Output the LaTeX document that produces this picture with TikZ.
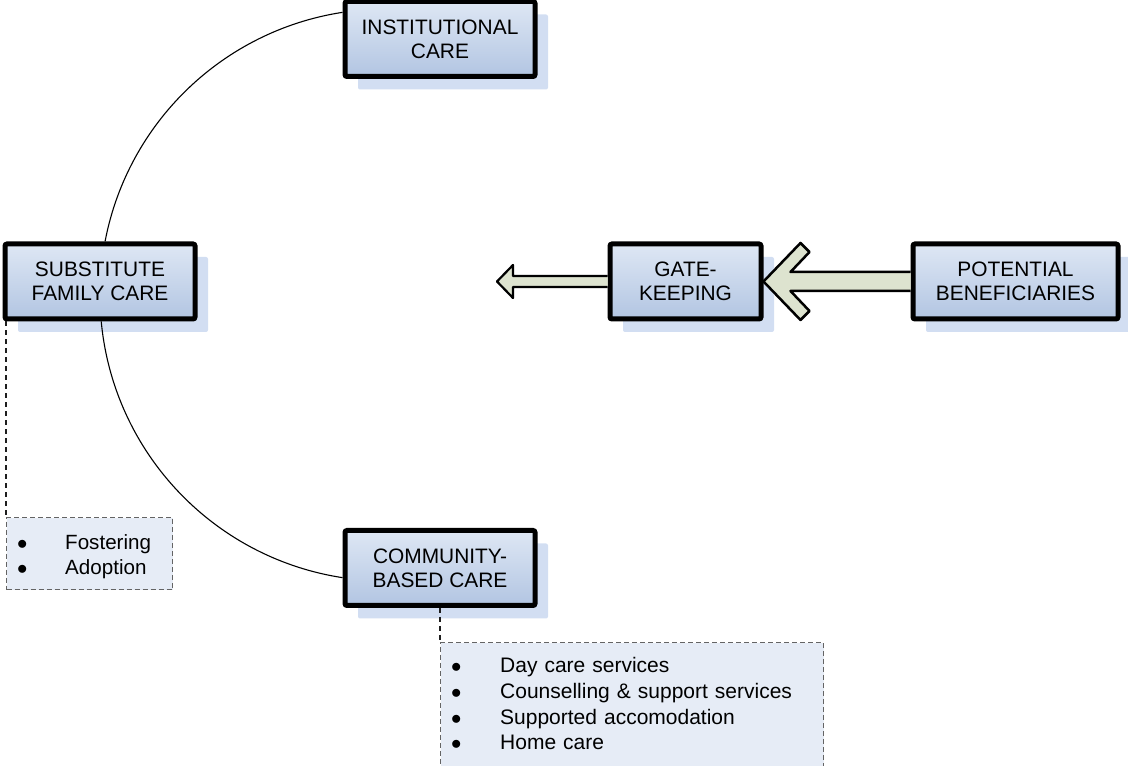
\documentclass[tikz,border=0pt]{standalone}
\usepackage{fontspec}
\setmainfont{Liberation Sans}
\usetikzlibrary{shadows,calc}
\definecolor{boxtop}{RGB}{222,231,244}
\definecolor{boxbot}{RGB}{178,197,226}
\definecolor{shadowblue}{RGB}{210,222,242}
\definecolor{arrowfill}{RGB}{221,227,207}
\definecolor{listfill}{RGB}{230,236,246}
\definecolor{listdash}{RGB}{100,100,100}
\definecolor{linkdash}{RGB}{30,30,30}
\begin{document}
\begin{tikzpicture}[x=1pt,y=1pt,
  carebox/.style={draw=black, line width=5pt, rounded corners=2pt,
    top color=boxtop, bottom color=boxbot, minimum height=75pt,
    align=center, inner sep=0pt, font=\fontsize{20.9}{24}\selectfont,
    drop shadow={shadow xshift=13pt, shadow yshift=-13pt, fill=shadowblue,
      opacity=1, draw=none}},
  listbox/.style={draw=listdash, fill=listfill, line width=1.4pt,
    dash pattern=on 5pt off 3pt, inner xsep=10.5pt, inner ysep=0pt,
    align=left, anchor=north west},
  curve/.style={draw=black, line width=1.1pt},
  linkline/.style={draw=linkdash, line width=1.4pt, dash pattern=on 5pt off 4pt},
  blockarrow/.style={draw=black, fill=arrowfill, line join=round}
]
\useasboundingbox (0,0) rectangle (1128,766);
\clip (0,0) rectangle (1128,766);

% boxes
\node[carebox, minimum width=190pt] (inst) at (440,727) {INSTITUTIONAL\\CARE};
\node[carebox, minimum width=190pt] (sub) at (100,484.5) {SUBSTITUTE\\FAMILY CARE};
\node[carebox, minimum width=151pt] (gate) at (685.5,484.5) {GATE-\\KEEPING};
\node[carebox, minimum width=205pt] (pot) at (1015.5,484.5) {POTENTIAL\\BENEFICIARIES};
\node[carebox, minimum width=190pt] (comm) at (440,198) {COMMUNITY-\\BASED CARE};

% arc connectors
\coordinate (c) at (386,471);
\draw[curve] ($(c)+(98.75:286)$) arc[start angle=98.75, end angle=169.2, radius=286];
\draw[curve] ($(c)+(185.3:286)$) arc[start angle=185.3, end angle=261.25, radius=286];

% small arrow out of gate-keeping
\coordinate (gout) at (497,484.5);
\path[blockarrow, line width=2.2pt] ([yshift=5.5pt]gate.west) -- ([shift={(16,5.5)}]gout)
  -- ([shift={(16,16.5)}]gout) -- (gout) -- ([shift={(16,-16.5)}]gout)
  -- ([shift={(16,-5.5)}]gout) -- ([yshift=-5.5pt]gate.west);

% big arrow from potential beneficiaries to gate-keeping
\path[blockarrow, line width=2.5pt] ([yshift=9.5pt]pot.west) -- ([shift={(27,9.5)}]gate.east)
  -- ([shift={(46,29.5)}]gate.east) -- ([shift={(37,38.5)}]gate.east)
  -- (gate.east)
  -- ([shift={(37,-38.5)}]gate.east) -- ([shift={(46,-29.5)}]gate.east)
  -- ([shift={(27,-9.5)}]gate.east) -- ([yshift=-9.5pt]pot.west);

% lists
\node[listbox, minimum width=166pt, minimum height=72pt, text width=145pt,
  text height=20pt, text depth=28pt, font=\fontsize{20.6}{25}\selectfont]
  (fost) at (6,249)
  {\makebox[48pt][l]{$\bullet$}Fostering\\\makebox[48pt][l]{$\bullet$}Adoption};
\node[listbox, minimum width=383pt, minimum height=150pt, text width=362pt,
  text height=20pt, text depth=110pt, font=\fontsize{21}{25.7}\selectfont]
  (comlist) at (440,124)
  {\makebox[49pt][l]{$\bullet$}Day care services\\
   \makebox[49pt][l]{$\bullet$}Counselling \& support services\\
   \makebox[49pt][l]{$\bullet$}Supported accomodation\\
   \makebox[49pt][l]{$\bullet$}Home care};

% dashed links
\draw[linkline] (fost.north west |- sub.south) -- (fost.north west);
\draw[linkline] (comm.south) -- (comm.south |- comlist.north);
\end{tikzpicture}
\end{document}
